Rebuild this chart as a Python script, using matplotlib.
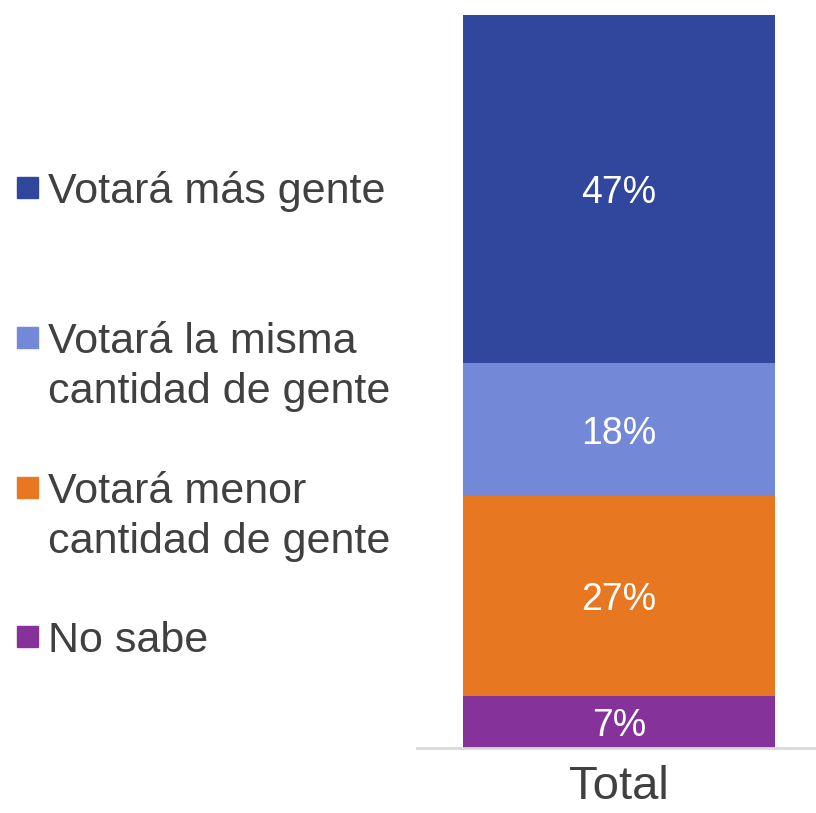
import matplotlib
matplotlib.use("Agg")
import matplotlib.pyplot as plt
from matplotlib.patches import Rectangle

plt.rcParams['font.family'] = ['Liberation Sans', 'DejaVu Sans']

categories = ["Total"]
series_labels = ["No sabe", "Votará menor\ncantidad de gente",
                 "Votará la misma\ncantidad de gente", "Votará más gente"]
series_values = [7, 27, 18, 47]
series_colors = ["#85339B", "#E87722", "#7388D6", "#31469D"]
label_texts = ["7%", "27%", "18%", "47%"]

W, H = 816, 813
fig = plt.figure(figsize=(W / 100, H / 100), dpi=100)
ax = fig.add_axes([417 / W, 65 / H, 399 / W, 733 / H])

bottom = 0
for val, col, lab in zip(series_values, series_colors, label_texts):
    bars = ax.bar(categories, [val], bottom=[bottom], width=0.782, color=col)
    txts = ax.bar_label(bars, labels=[lab], label_type='center', color='white', fontsize=27)
    for t in txts:
        t.set_va('center_baseline')
    bottom += val

ax.set_xlim(-0.506, 0.494)
ax.set_ylim(0, sum(series_values))
for s in ['top', 'left', 'right']:
    ax.spines[s].set_visible(False)
ax.spines['bottom'].set_color('#D9D9D9')
ax.spines['bottom'].set_linewidth(2)
ax.set_yticks([])
ax.tick_params(axis='x', length=0, labelsize=34, labelcolor='#404040', pad=12)

# manual legend (top to bottom)
baselines = [203, 353, 503, 652]
line_step = 50
sq = 21
for (lab, col), yb in zip(zip(series_labels[::-1], series_colors[::-1]), baselines):
    for i, line in enumerate(lab.split("\n")):
        fig.text(48 / W, 1 - (yb + i * line_step) / H, line, fontsize=31,
                 color='#404040', va='baseline', ha='left')
    cy = yb - 15.5
    fig.patches.append(Rectangle((17 / W, 1 - (cy + sq / 2) / H), sq / W, sq / H,
                                 transform=fig.transFigure, color=col))

fig.savefig("out.png", dpi=100)
